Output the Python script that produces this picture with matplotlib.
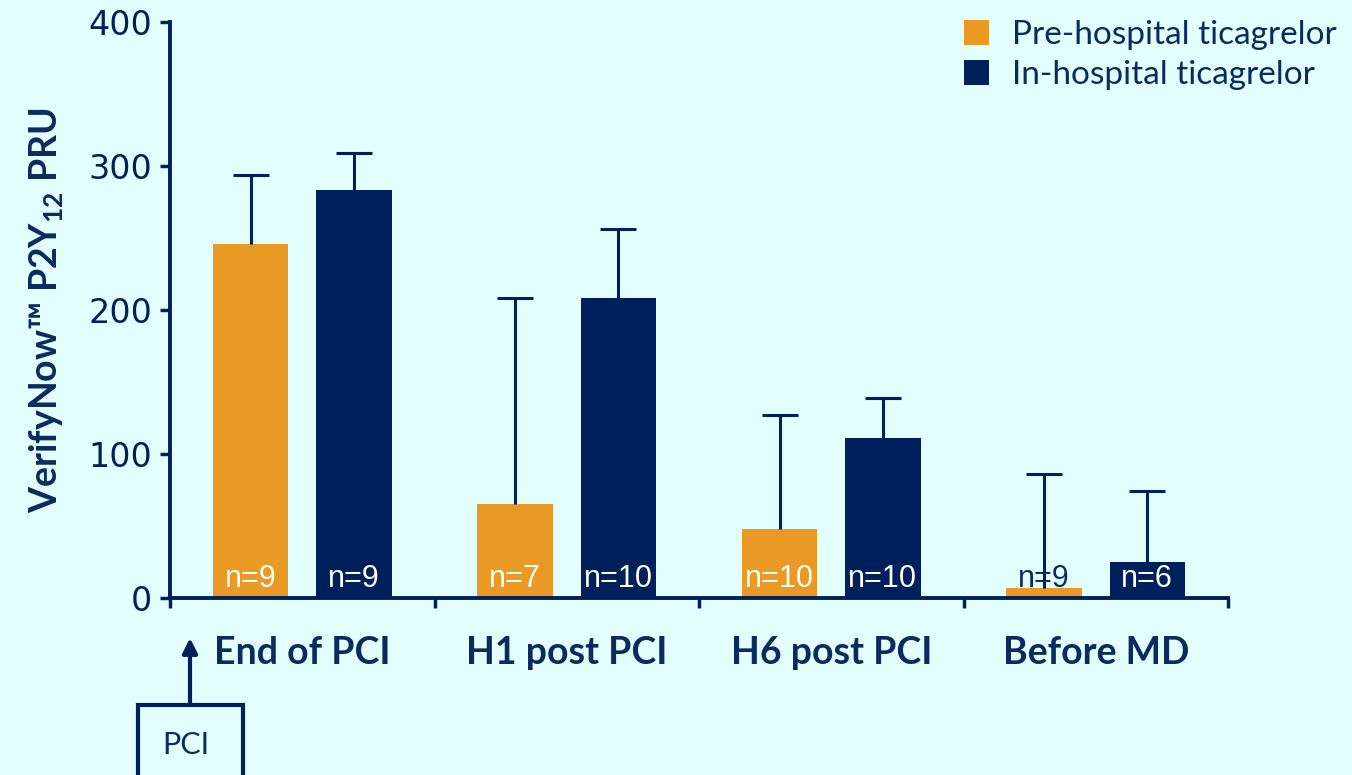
import numpy as np
import matplotlib
matplotlib.use('Agg')
import matplotlib.pyplot as plt
from matplotlib.patches import Rectangle

# Datos
grupos = ['End of PCI', 'H1 post PCI', 'H6 post PCI', 'Before MD']
pre_media = [246, 65, 48, 7]
pre_error = [48, 143, 79, 79]
in_media = [283, 208, 111, 25]
in_error = [26, 48, 28, 49]
pre_n = ['n=9', 'n=7', 'n=10', 'n=9']
in_n = ['n=9', 'n=10', 'n=10', 'n=6']
yticks = [0, 100, 200, 300, 400]

naranja = '#E99A24'
azul = '#00205B'
texto = '#0B2A5E'
fondo = '#E2FFFE'

plt.rcParams['mathtext.fontset'] = 'custom'
plt.rcParams['mathtext.bf'] = 'Lato:bold'
plt.rcParams['mathtext.rm'] = 'Lato:bold'

fig = plt.figure(figsize=(13.52, 7.75), dpi=100, facecolor=fondo)
ax = fig.add_axes([170/1352, 177/775, 1058/1352, 576/775])
ax.set_facecolor(fondo)

x = np.arange(len(grupos))
off = 0.195
w = 0.285
ek = dict(ecolor=azul, elinewidth=2.2, capsize=13, capthick=2.2)
b1 = ax.bar(x - off, pre_media, w, color=naranja, label='Pre-hospital ticagrelor',
            yerr=[np.zeros(4), pre_error], error_kw=ek, zorder=2)
b2 = ax.bar(x + off, in_media, w, color=azul, label='In-hospital ticagrelor',
            yerr=[np.zeros(4), in_error], error_kw=ek, zorder=2)
# quitar el cap inferior (solo error hacia arriba)
for b in (b1, b2):
    caps = b.errorbar.lines[1]
    caps[0].set_visible(False)

# Etiquetas n= dentro de las barras
for i in range(len(grupos)):
    col = 'white' if pre_media[i] > 20 else texto
    ax.text(x[i] - off, 3, pre_n[i], ha='center', va='bottom', color=col,
            fontsize=22, family='Liberation Sans', zorder=3)
    ax.text(x[i] + off, 3, in_n[i], ha='center', va='bottom', color='white',
            fontsize=22, family='Liberation Sans', zorder=3)

ax.set_xlim(-0.5, 3.5)
ax.set_ylim(0, 400)
ax.set_yticks(yticks)
ax.set_yticklabels([str(v) for v in yticks], fontsize=24, color=texto, family='DejaVu Sans')
ax.set_xticks(np.arange(-0.5, 4, 1))
ax.set_xticklabels([])
ax.tick_params(axis='both', colors=azul, width=2.5, length=7, direction='out', pad=6)
for s in ['top', 'right']:
    ax.spines[s].set_visible(False)
for s in ['left', 'bottom']:
    ax.spines[s].set_color(azul)
    ax.spines[s].set_linewidth(2.8)
    ax.spines[s].set_zorder(4)

for i, g in enumerate(grupos):
    ax.text(x[i], -38, g, ha='center', va='center', fontsize=27, fontweight='bold',
            color=texto, family='Lato', clip_on=False)

ax.set_ylabel(r'VerifyNow™ P2Y$_{12}$ PRU', fontsize=27, fontweight='bold',
              color=texto, family='Lato', labelpad=16)

leg = ax.legend(loc='upper left', bbox_to_anchor=(944/1352, 1.0), bbox_transform=fig.transFigure,
                frameon=False, prop={'family': 'Lato', 'size': 24}, handlelength=0.75,
                handleheight=0.75, handletextpad=0.7, labelspacing=0.3, borderaxespad=0.2)
for t in leg.get_texts():
    t.set_color(texto)

# Caja PCI con flecha
fig.patches.append(Rectangle((138/1352, -0.05), 105/1352, (775 - 705)/775 + 0.05,
                             transform=fig.transFigure, fill=False, edgecolor=azul, linewidth=3))
fig.text(186/1352, (775 - 745)/775, 'PCI', ha='center', va='center', fontsize=22,
         color=texto, family='Lato')
ax.annotate('', xy=(190/1352, (775 - 638)/775), xytext=(190/1352, (775 - 705)/775),
            xycoords='figure fraction', textcoords='figure fraction',
            arrowprops=dict(arrowstyle='-|>', color=azul, lw=3, mutation_scale=22,
                            shrinkA=0, shrinkB=0))

plt.savefig('out.png', dpi=100, facecolor=fondo)
